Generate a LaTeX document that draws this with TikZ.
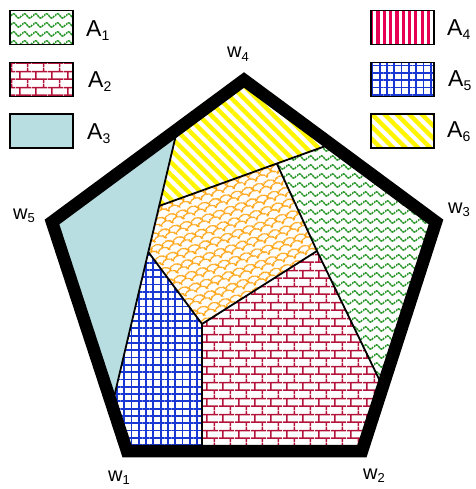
\documentclass[tikz,border=0pt]{standalone}
\usepackage{fontspec}
\setmainfont{Liberation Sans}
\usetikzlibrary{patterns.meta}

\definecolor{cGreen}{RGB}{40,150,40}
\definecolor{cBrick}{RGB}{180,20,60}
\definecolor{cLBlue}{RGB}{185,222,226}
\definecolor{cPink}{RGB}{232,0,85}
\definecolor{cBlue}{RGB}{25,55,210}
\definecolor{cYellow}{RGB}{255,245,0}
\definecolor{cOrange}{RGB}{255,165,20}

\pgfdeclarepattern{
  name=mywaves, type=uncolored,
  bottom left={\pgfpoint{0pt}{0pt}}, top right={\pgfpoint{11pt}{8.5pt}},
  tile size={\pgfpoint{11pt}{8.5pt}},
  code={
    \pgfsetlinewidth{1.6pt}
    \pgfsetdash{{2.4pt}{0.7pt}}{0pt}
    \pgfpathmoveto{\pgfpoint{0pt}{4.25pt}}
    \pgfpathcurveto{\pgfpoint{1.8pt}{7.2pt}}{\pgfpoint{3.7pt}{7.2pt}}{\pgfpoint{5.5pt}{4.25pt}}
    \pgfpathcurveto{\pgfpoint{7.3pt}{1.3pt}}{\pgfpoint{9.2pt}{1.3pt}}{\pgfpoint{11pt}{4.25pt}}
    \pgfusepath{stroke}
  }
}

\pgfdeclarepattern{
  name=mybricks, type=uncolored,
  bottom left={\pgfpoint{0pt}{0pt}}, top right={\pgfpoint{15.6pt}{15.6pt}},
  tile size={\pgfpoint{15.6pt}{15.6pt}},
  code={
    \pgfsetlinewidth{1.6pt}
    \pgfpathmoveto{\pgfpoint{0pt}{3.9pt}}\pgfpathlineto{\pgfpoint{15.6pt}{3.9pt}}
    \pgfpathmoveto{\pgfpoint{0pt}{11.7pt}}\pgfpathlineto{\pgfpoint{15.6pt}{11.7pt}}
    \pgfpathmoveto{\pgfpoint{3.9pt}{3.9pt}}\pgfpathlineto{\pgfpoint{3.9pt}{11.7pt}}
    \pgfpathmoveto{\pgfpoint{11.7pt}{11.7pt}}\pgfpathlineto{\pgfpoint{11.7pt}{15.6pt}}
    \pgfpathmoveto{\pgfpoint{11.7pt}{0pt}}\pgfpathlineto{\pgfpoint{11.7pt}{3.9pt}}
    \pgfusepath{stroke}
  }
}

\pgfdeclarepattern{
  name=myscales, type=uncolored,
  bottom left={\pgfpoint{0pt}{0pt}}, top right={\pgfpoint{12pt}{12pt}},
  tile size={\pgfpoint{12pt}{12pt}},
  tile transformation={\pgftransformrotate{19}},
  code={
    \pgfsetlinewidth{1.4pt}
    \pgfpathmoveto{\pgfpoint{0pt}{0.6pt}}
    \pgfpathcurveto{\pgfpoint{0.6pt}{7pt}}{\pgfpoint{11.4pt}{7pt}}{\pgfpoint{12pt}{0.6pt}}
    \pgfpathmoveto{\pgfpoint{-6pt}{6pt}}
    \pgfpathcurveto{\pgfpoint{-5.4pt}{12.4pt}}{\pgfpoint{5.4pt}{12.4pt}}{\pgfpoint{6pt}{6pt}}
    \pgfpathmoveto{\pgfpoint{6pt}{6pt}}
    \pgfpathcurveto{\pgfpoint{6.6pt}{12.4pt}}{\pgfpoint{17.4pt}{12.4pt}}{\pgfpoint{18pt}{6pt}}
    \pgfusepath{stroke}
  }
}

\newcommand\mysubA[1]{\raisebox{-3.6pt}{\fontsize{14}{14}\selectfont #1}}
\newcommand\mysubW[1]{\raisebox{-3.2pt}{\fontsize{13}{13}\selectfont #1}}

\begin{document}
\begin{tikzpicture}[x=1pt,y=-1pt,
  legbox/.style={draw=black, line width=1.5pt, minimum width=63pt, minimum height=34pt, inner sep=0pt},
  alab/.style={anchor=base west, inner sep=0pt, font=\fontsize{23}{23}\selectfont},
  wlab/.style={anchor=base west, inner sep=0pt, font=\fontsize{20}{20}\selectfont},
  pA1/.style={pattern=mywaves, pattern color=cGreen},
  pA2/.style={pattern=mybricks, pattern color=cBrick},
  pA3/.style={fill=cLBlue},
  pA4/.style={pattern={Lines[angle=90,distance=6.3pt,line width=3.2pt]}, pattern color=cPink},
  pA5/.style={pattern={Hatch[angle=0,distance=7.3pt,line width=1.8pt]}, pattern color=cBlue},
  pA6/.style={pattern={Lines[angle=-45,distance=8.8pt,line width=4.4pt]}, pattern color=cYellow},
  pOr/.style={pattern=myscales, pattern color=cOrange},
  split/.style={draw=black, line width=1.8pt},
  border/.style={draw=black, line width=12.5pt, line join=miter}
]
\useasboundingbox (0,0) rectangle (475,489);

% pentagon corners (centre of the thick border)
\coordinate (w1) at (127,451);
\coordinate (w2) at (362,451);
\coordinate (w3) at (436,222);
\coordinate (w4) at (244,80);
\coordinate (w5) at (52,222);

% interior guide points
\coordinate (a) at (175,139);
\coordinate (b) at (115,393);
\coordinate (Q) at (159,206);
\coordinate (U) at (277,164);
\coordinate (c) at (320,148);
\coordinate (R) at (148.3,252);
\coordinate (S) at (202,324);
\coordinate (T) at (317,251);
\coordinate (d) at (378,377);

\coordinate (A) at (intersection of a--b and w5--w4);
\coordinate (B) at (intersection of a--b and w5--w1);
\coordinate (C) at (intersection of Q--c and w4--w3);
\coordinate (D) at (intersection of T--d and w3--w2);
\coordinate (E) at (202,451);

% regions
\fill[pA3] (A) -- (w5) -- (B) -- cycle;
\fill[pA6] (A) -- (w4) -- (C) -- (U) -- (Q) -- cycle;
\fill[pA1] (C) -- (w3) -- (D) -- (T) -- (U) -- cycle;
\fill[pOr] (Q) -- (U) -- (T) -- (S) -- (R) -- cycle;
\fill[pA2] (S) -- (T) -- (D) -- (w2) -- (E) -- cycle;
\fill[pA5] (R) -- (S) -- (E) -- (w1) -- (B) -- cycle;

% dividing lines
\draw[split] (A) -- (B);
\draw[split] (Q) -- (C);
\draw[split] (U) -- (T);
\draw[split] (T) -- (D);
\draw[split] (R) -- (S);
\draw[split] (S) -- (T);
\draw[split] (S) -- (E);

% border
\draw[border] (w1) -- (w2) -- (w3) -- (w4) -- (w5) -- cycle;

% corner labels
\node[wlab] (l1) at (108,481) {w\mysubW{1}};
\node[wlab] (l2) at (363,479) {w\mysubW{2}};
\node[wlab] (l3) at (448,213) {w\mysubW{3}};
\node[wlab] (l4) at (227,58) {w\mysubW{4}};
\node[wlab] (l5) at (13,219) {w\mysubW{5}};

% legend
\node[legbox, pA1] (k1) at (41.5,27.5) {};
\node[legbox, pA2] (k2) at (41.5,79.5) {};
\node[legbox, pA3] (k3) at (41.5,131) {};
\node[legbox, pA4] (k4) at (402.5,27.5) {};
\node[legbox, pA5] (k5) at (402.5,79.5) {};
\node[legbox, pA6] (k6) at (402.5,131) {};

\node[alab] (t1) at (86,37) {A\mysubA{1}};
\node[alab] (t2) at (88,88) {A\mysubA{2}};
\node[alab] (t3) at (87,140) {A\mysubA{3}};
\node[alab] (t4) at (447,36) {A\mysubA{4}};
\node[alab] (t5) at (448,87) {A\mysubA{5}};
\node[alab] (t6) at (447,138) {A\mysubA{6}};
\end{tikzpicture}
\end{document}
